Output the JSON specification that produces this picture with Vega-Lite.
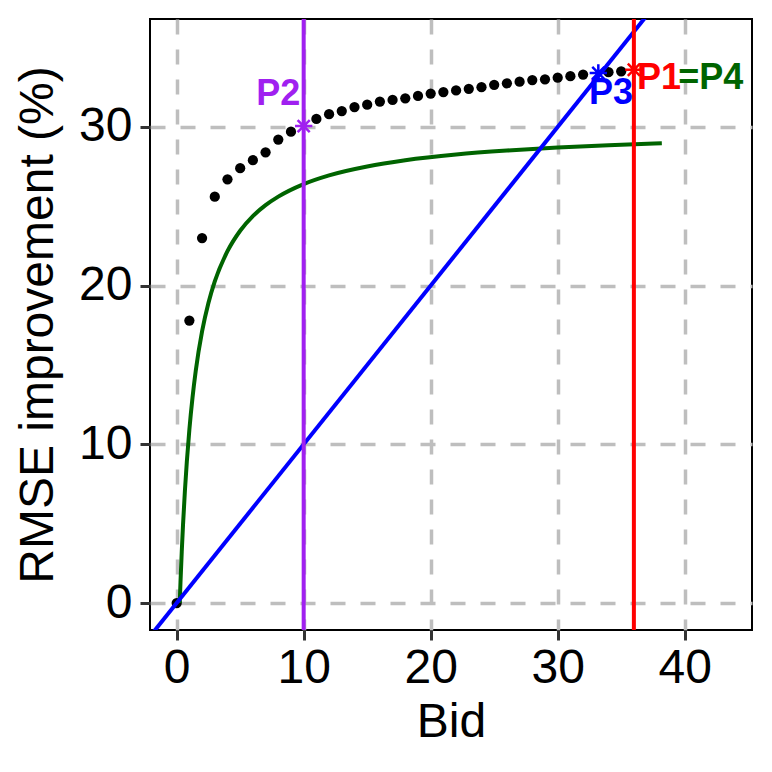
{
  "$schema": "https://vega.github.io/schema/vega-lite/v6.json",
  "description": "RMSE improvement vs bid",
  "width": 602,
  "height": 611,
  "autosize": "none",
  "padding": {"left": 150, "top": 19, "right": 20, "bottom": 142},
  "background": "white",
  "datasets": {
    "dots": [
      {"x": 0, "y": 0}, {"x": 1, "y": 17.8}, {"x": 2, "y": 23.0}, {"x": 3, "y": 25.6},
      {"x": 4, "y": 26.7}, {"x": 5, "y": 27.4}, {"x": 6, "y": 27.9}, {"x": 7, "y": 28.4},
      {"x": 8, "y": 29.2}, {"x": 9, "y": 29.7}, {"x": 11, "y": 30.5}, {"x": 12, "y": 30.8},
      {"x": 13, "y": 31.0}, {"x": 14, "y": 31.25}, {"x": 15, "y": 31.4}, {"x": 16, "y": 31.6},
      {"x": 17, "y": 31.7}, {"x": 18, "y": 31.8}, {"x": 19, "y": 31.95}, {"x": 20, "y": 32.1},
      {"x": 21, "y": 32.2}, {"x": 22, "y": 32.3}, {"x": 23, "y": 32.4}, {"x": 24, "y": 32.5},
      {"x": 25, "y": 32.65}, {"x": 26, "y": 32.75}, {"x": 27, "y": 32.85}, {"x": 28, "y": 32.95},
      {"x": 29, "y": 33.0}, {"x": 30, "y": 33.1}, {"x": 31, "y": 33.2}, {"x": 32, "y": 33.3},
      {"x": 34, "y": 33.45}, {"x": 35, "y": 33.5}
    ],
    "curve": [
      {"x": 0.24, "y": 0}, {"x": 0.3, "y": 1.3}, {"x": 0.4, "y": 3.23}, {"x": 0.5, "y": 4.92},
      {"x": 0.65, "y": 7.09}, {"x": 0.8, "y": 8.91}, {"x": 1.0, "y": 10.93}, {"x": 1.25, "y": 12.97},
      {"x": 1.5, "y": 14.62}, {"x": 2, "y": 17.11}, {"x": 2.5, "y": 18.9}, {"x": 3, "y": 20.26},
      {"x": 4, "y": 22.17}, {"x": 5, "y": 23.46}, {"x": 6, "y": 24.38}, {"x": 7, "y": 25.07},
      {"x": 8, "y": 25.61}, {"x": 10, "y": 26.4}, {"x": 12, "y": 26.95}, {"x": 15, "y": 27.51},
      {"x": 18, "y": 27.9}, {"x": 22, "y": 28.26}, {"x": 26, "y": 28.51}, {"x": 30, "y": 28.7},
      {"x": 34, "y": 28.85}, {"x": 38.2, "y": 28.97}
    ],
    "diagonal": [{"x": -3, "y": -3}, {"x": 40, "y": 40}],
    "vlines": [{"x": 10, "key": "P2"}, {"x": 36, "key": "P1"}],
    "stars": [
      {"x": 10, "y": 30.05, "key": "P2"},
      {"x": 33.2, "y": 33.4, "key": "P3"},
      {"x": 36, "y": 33.6, "key": "P1"}
    ],
    "labels_mid": [
      {"label": "P2", "x": 8.0, "y": 32.1, "key": "P2"},
      {"label": "P3", "x": 34.2, "y": 32.15, "key": "P3"}
    ],
    "labels_left": [
      {"label": "P1", "x": 36.25, "y": 33.1, "key": "P1"},
      {"label": "=P4", "x": 39.5, "y": 33.1, "key": "P4"}
    ]
  },
  "layer": [
    {
      "data": {"name": "dots"},
      "mark": {"type": "point", "filled": true, "color": "black", "size": 105, "opacity": 1},
      "encoding": {
        "x": {
          "field": "x",
          "type": "quantitative",
          "scale": {"domain": [-2.1, 45.3], "nice": false, "zero": false},
          "axis": {"values": [0, 10, 20, 30, 40], "title": "Bid"}
        },
        "y": {
          "field": "y",
          "type": "quantitative",
          "scale": {"domain": [-1.7, 36.8], "nice": false, "zero": false},
          "axis": {"values": [0, 10, 20, 30], "title": "RMSE improvement (%)"}
        }
      }
    },
    {
      "data": {"name": "curve"},
      "mark": {"type": "line", "color": "#006400", "strokeWidth": 4, "interpolate": "monotone"},
      "encoding": {
        "x": {"field": "x", "type": "quantitative"},
        "y": {"field": "y", "type": "quantitative"}
      }
    },
    {
      "data": {"name": "diagonal"},
      "mark": {"type": "line", "color": "#0000FF", "strokeWidth": 4, "clip": true},
      "encoding": {
        "x": {"field": "x", "type": "quantitative"},
        "y": {"field": "y", "type": "quantitative"}
      }
    },
    {
      "data": {"name": "vlines"},
      "mark": {"type": "rule", "strokeWidth": 4},
      "encoding": {
        "x": {"field": "x", "type": "quantitative"},
        "color": {
          "field": "key",
          "type": "nominal",
          "scale": {"domain": ["P1", "P2", "P3", "P4"], "range": ["#FF0000", "#A020F0", "#0000FF", "#006400"]},
          "legend": null
        }
      }
    },
    {
      "data": {"name": "stars"},
      "mark": {
        "type": "point",
        "shape": "M-1,0L1,0M0,-1L0,1M-0.7,-0.7L0.7,0.7M-0.7,0.7L0.7,-0.7",
        "filled": false,
        "size": 300,
        "strokeWidth": 2.5,
        "opacity": 1
      },
      "encoding": {
        "x": {"field": "x", "type": "quantitative"},
        "y": {"field": "y", "type": "quantitative"},
        "color": {"field": "key", "type": "nominal", "legend": null}
      }
    },
    {
      "data": {"name": "labels_mid"},
      "mark": {"type": "text", "font": "Liberation Sans", "fontWeight": "bold", "fontSize": 36, "align": "center", "baseline": "middle"},
      "encoding": {
        "x": {"field": "x", "type": "quantitative"},
        "y": {"field": "y", "type": "quantitative"},
        "text": {"field": "label"},
        "color": {"field": "key", "type": "nominal", "legend": null}
      }
    },
    {
      "data": {"name": "labels_left"},
      "mark": {"type": "text", "font": "Liberation Sans", "fontWeight": "bold", "fontSize": 36, "align": "left", "baseline": "middle"},
      "encoding": {
        "x": {"field": "x", "type": "quantitative"},
        "y": {"field": "y", "type": "quantitative"},
        "text": {"field": "label"},
        "color": {"field": "key", "type": "nominal", "legend": null}
      }
    }
  ],
  "config": {
    "font": "Liberation Sans",
    "view": {"stroke": "black", "strokeWidth": 2},
    "axis": {
      "domain": false,
      "grid": true,
      "gridColor": "#BEBEBE",
      "gridDash": [15, 15],
      "gridWidth": 3.5,
      "ticks": true,
      "tickSize": 10,
      "tickWidth": 3,
      "tickColor": "#333333",
      "labelFont": "Liberation Sans",
      "labelFontSize": 48,
      "labelColor": "black",
      "titleFont": "Liberation Sans",
      "titleFontSize": 48,
      "titleFontWeight": "normal",
      "titleColor": "black"
    },
    "axisX": {"labelPadding": 4, "titlePadding": 6},
    "axisY": {"labelPadding": 8, "titlePadding": 16}
  }
}
